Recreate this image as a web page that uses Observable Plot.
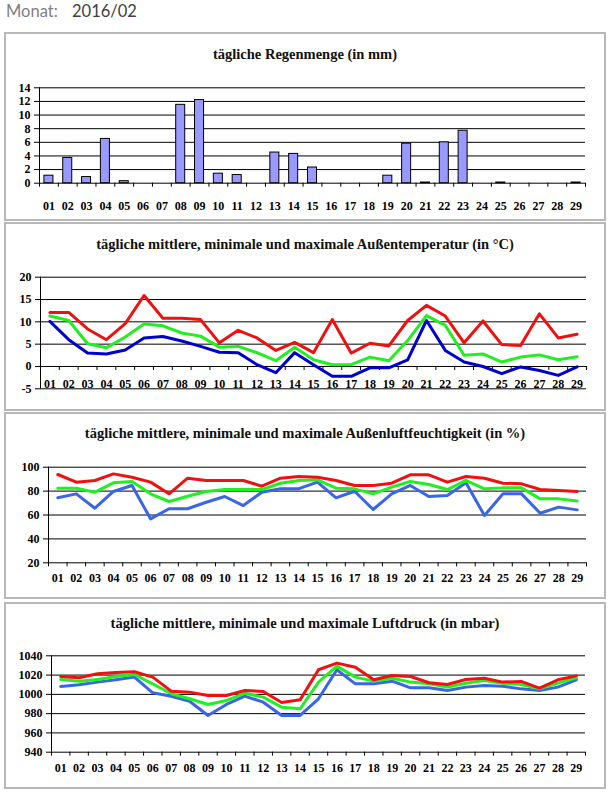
<!DOCTYPE html>
<html><head><meta charset="utf-8">
<script src="https://cdn.jsdelivr.net/npm/d3@7"></script>
<script src="https://cdn.jsdelivr.net/npm/@observablehq/plot@0.6"></script>
<style>
body{margin:0;background:#fff;}
#page{position:relative;width:610px;height:792px;overflow:hidden;}
.box{position:absolute;left:4px;width:602px;border:2px solid #b8b8b8;box-sizing:border-box;}
.ttl{position:absolute;left:5px;width:600px;text-align:center;font:bold 14.5px "Liberation Serif",serif;color:#111;line-height:16px;white-space:nowrap;}
.hdr{position:absolute;top:0px;font:16.5px Lato,"Noto Sans",sans-serif;line-height:22px;}
</style></head><body><div id="page">
<span class="hdr" style="left:6px;color:#808080">Monat:</span>
<span class="hdr" style="left:72px;color:#404040">2016/02</span>
</div>
<script>
const dayLabels = ["01","02","03","04","05","06","07","08","09","10","11","12","13","14","15","16","17","18","19","20","21","22","23","24","25","26","27","28","29"];
const rain = [1.1,3.7,0.9,6.5,0.3,0,0,11.5,12.2,1.4,1.2,0,4.5,4.3,2.3,0,0,0,1.1,5.8,0.1,6.0,7.7,0,0.1,0,0,0,0.1];
const tempMax = [12.1,12.1,8.4,6.0,9.6,15.9,10.8,10.8,10.5,5.3,8.1,6.4,3.6,5.4,3.1,10.5,3.0,5.2,4.6,10.3,13.7,11.3,5.3,10.2,4.9,4.7,11.8,6.4,7.2];
const tempMean = [11.3,10.3,5.1,4.2,6.6,9.5,9.1,7.5,6.8,4.3,4.5,3.1,1.3,4.3,1.5,0.4,0.4,2.1,1.3,5.8,11.4,9.2,2.5,2.8,1.0,2.1,2.6,1.5,2.2];
const tempMin = [10.1,6.0,3.0,2.8,3.7,6.4,6.7,5.7,4.5,3.2,3.1,0.4,-1.4,3.1,0.4,-2.2,-2.2,-0.3,-0.3,1.5,10.3,3.6,1.0,0.0,-1.6,-0.1,-0.9,-2.0,-0.1];
const humMax = [93.9,87.5,88.9,94.4,91.6,87.5,77.7,90.8,88.9,88.9,88.9,84.1,90.8,92.2,91.6,88.9,84.7,84.7,86.6,93.6,93.6,87.5,92.2,90.8,86.6,86.1,81.3,80.5,79.7];
const humMean = [82.4,82.4,79.1,86.9,88.0,77.7,71.3,75.7,79.7,81.3,81.3,81.3,86.6,88.9,89.4,82.4,81.9,77.7,83.3,88.0,85.5,81.3,88.9,81.9,82.7,82.7,73.5,73.5,71.8];
const humMin = [74.4,77.7,65.7,79.7,84.7,56.8,65.2,65.2,70.7,75.5,67.9,79.1,81.9,82.0,87.5,74.4,79.9,64.6,77.7,84.7,75.5,76.3,86.9,59.6,77.7,77.7,61.5,66.6,64.3];
const pressMax = [1018.5,1017.2,1021.3,1022.7,1023.4,1017.9,1003.3,1002.3,998.8,998.8,1004.0,1003.0,991.6,994.3,1025.5,1032.4,1028.2,1015.1,1019.6,1018.5,1012.0,1010.2,1015.4,1016.8,1012.7,1013.4,1006.4,1015.1,1019.2];
const pressMean = [1015.4,1013.7,1015.4,1018.5,1020.6,1010.9,1000.6,995.4,989.5,993.6,1001.2,997.1,986.7,985.0,1012.7,1029.3,1017.9,1013.7,1016.8,1012.7,1010.9,1007.5,1011.6,1014.4,1011.6,1010.2,1005.7,1011.6,1017.2];
const pressMin = [1008.2,1009.9,1012.7,1015.1,1017.9,1001.6,998.1,992.9,978.1,989.5,998.1,991.9,978.1,978.1,995.4,1025.5,1010.9,1010.9,1013.7,1006.8,1006.8,1004.0,1007.5,1009.2,1008.5,1005.7,1004.0,1007.5,1015.1];
const rainTicks = [0,2,4,6,8,10,12,14];
const tempTicks = [-5,0,5,10,15,20];
const humTicks = [20,40,60,80,100];
const pressTicks = [940,960,980,1000,1020,1040];
const titles = [
  "tägliche Regenmenge (in mm)",
  "tägliche mittlere, minimale und maximale Außentemperatur (in °C)",
  "tägliche mittlere, minimale und maximale Außenluftfeuchtigkeit (in %)",
  "tägliche mittlere, minimale und maximale Luftdruck (in mbar)"
];

const X = dayLabels.map((d, i) => i + 1);
const bounds = [0.5, ...X.map(x => x + 0.5)];
const RED = "#ee1111", GREEN = "#22ee22", BLUE_DARK = "#0000cc", BLUE = "#3a66e6";
const FONT = '"Liberation Serif", serif';
const page = document.getElementById("page");

function panel({top, height, mL, mR, mT, mB, yDomain, yTicks, marks, title, titleY}) {
  const box = document.createElement("div");
  box.className = "box";
  box.style.top = (top - 1) + "px";
  box.style.height = (height + 2) + "px";
  page.appendChild(box);
  const svg = Plot.plot({
    width: 600, height,
    marginLeft: mL, marginRight: mR, marginTop: mT, marginBottom: mB,
    x: {domain: [0.5, 29.5], axis: null},
    y: {domain: yDomain, axis: null},
    style: {fontFamily: FONT, fontSize: "12px", fontWeight: "bold", color: "#000", background: "transparent", overflow: "visible"},
    marks: [
      Plot.ruleY(yTicks, {stroke: "#000", strokeWidth: 1}),
      Plot.ruleX([0.5], {stroke: "#000", strokeWidth: 1}),
      Plot.axisY({ticks: yTicks, tickSize: 5, tickPadding: 4, label: null, tickFormat: d => String(d)}),
      ...marks
    ]
  });
  svg.style.position = "absolute";
  svg.style.left = "5px";
  svg.style.top = top + "px";
  page.appendChild(svg);
  const t = document.createElement("div");
  t.className = "ttl";
  t.style.top = (top + titleY - 8) + "px";
  t.textContent = title;
  page.appendChild(t);
}

function bottomAxis(pad) {
  return [
    Plot.axisX({ticks: bounds, tickSize: 4, tickFormat: () => "", label: null}),
    Plot.axisX({ticks: X, tickSize: 0, tickPadding: pad, tickFormat: d => dayLabels[d - 1], label: null})
  ];
}
function lines(mn, me, mx, blue) {
  return [
    Plot.lineY(mn, {x: X, y: d => d, stroke: blue, strokeWidth: 3}),
    Plot.lineY(me, {x: X, y: d => d, stroke: GREEN, strokeWidth: 3}),
    Plot.lineY(mx, {x: X, y: d => d, stroke: RED, strokeWidth: 3})
  ];
}

const rainData = rain.map((v, i) => ({x: X[i], v}));

panel({top: 33, height: 187, mL: 34, mR: 20, mT: 54.3, mB: 37.3, yDomain: [0, 14], yTicks: rainTicks,
  title: titles[0], titleY: 21,
  marks: [
    Plot.rectY(rainData, {x1: d => d.x - 0.5, x2: d => d.x + 0.5, y: "v", insetLeft: 4.9, insetRight: 4.9, fill: "#9999ff", stroke: "#000", strokeWidth: 1}),
    ...bottomAxis(18.7)
  ]});

panel({top: 223, height: 187, mL: 35, mR: 19, mT: 53.7, mB: 21.7, yDomain: [-5, 20], yTicks: tempTicks,
  title: titles[1], titleY: 21,
  marks: [
    Plot.ruleX(bounds, {y1: 0, y2: -0.9, stroke: "#000", strokeWidth: 1}),
    Plot.text(X, {x: d => d, frameAnchor: "bottom", dy: -5, lineAnchor: "middle", text: d => dayLabels[d - 1], fontSize: 12, fontWeight: "bold"}),
    ...lines(tempMin, tempMean, tempMax, BLUE_DARK)
  ]});

panel({top: 413, height: 185, mL: 43, mR: 19, mT: 53.7, mB: 35.7, yDomain: [20, 100], yTicks: humTicks,
  title: titles[2], titleY: 20,
  marks: [...bottomAxis(11.1), ...lines(humMin, humMean, humMax, BLUE)]});

panel({top: 603, height: 185, mL: 46, mR: 20, mT: 52.3, mB: 36.3, yDomain: [940, 1040], yTicks: pressTicks,
  title: titles[3], titleY: 20,
  marks: [...bottomAxis(11.4), ...lines(pressMin, pressMean, pressMax, BLUE)]});
</script>
</body></html>
